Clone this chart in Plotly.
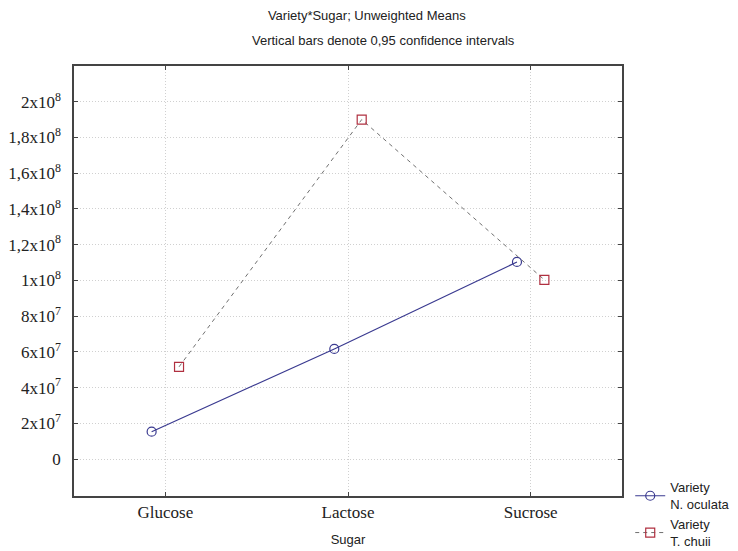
import plotly.graph_objects as go

sugars = ["Glucose", "Lactose", "Sucrose"]
n_oculata = [1.53e7, 6.16e7, 1.103e8]
t_chuii = [5.16e7, 1.90e8, 1.003e8]
ytick_vals = [0, 2e7, 4e7, 6e7, 8e7, 1e8, 1.2e8, 1.4e8, 1.6e8, 1.8e8, 2e8]
ytick_text = ["0", "2x10<sup>7</sup>", "4x10<sup>7</sup>", "6x10<sup>7</sup>", "8x10<sup>7</sup>",
              "1x10<sup>8</sup>", "1,2x10<sup>8</sup>", "1,4x10<sup>8</sup>", "1,6x10<sup>8</sup>",
              "1,8x10<sup>8</sup>", "2x10<sup>8</sup>"]

OFF = 0.075
pos = list(range(len(sugars)))
SANS = "Arial, Liberation Sans"
SERIF = "Times New Roman, Liberation Serif"

fig = go.Figure()
fig.add_trace(go.Scatter(
    x=[p - OFF for p in pos], y=n_oculata, mode="lines+markers",
    name="Variety<br>N. oculata",
    line=dict(color="#3a3a90", width=1.2),
    marker=dict(symbol="circle-open", size=9, color="#3a3a90", line=dict(width=1.2)),
))
fig.add_trace(go.Scatter(
    x=[p + OFF for p in pos], y=t_chuii, mode="lines+markers",
    name="Variety<br>T. chuii",
    line=dict(color="#707070", width=1, dash="4px,4px"),
    marker=dict(symbol="square-open", size=9, color="#b03040", line=dict(width=1.2)),
))

fig.update_layout(
    width=738, height=551,
    margin=dict(l=74, r=116, t=66, b=55, autoexpand=False),
    paper_bgcolor="white", plot_bgcolor="white",
    title=dict(text="Variety*Sugar; Unweighted Means",
               x=0.497, xref="container", xanchor="center", y=1 - 15 / 551, yref="container", yanchor="middle",
               font=dict(family=SANS, size=13, color="#222")),
    annotations=[dict(text="Vertical bars denote 0,95 confidence intervals",
                      xref="paper", yref="paper", x=(383 - 74) / 548, y=(496 - 41) / 430,
                      xanchor="center", yanchor="middle", showarrow=False,
                      font=dict(family=SANS, size=13, color="#222"))],
    showlegend=True,
    legend=dict(x=1.015, xanchor="left", y=0.055, yanchor="top",
                font=dict(family=SANS, size=13, color="#222"),
                tracegroupgap=0, itemwidth=30, bgcolor="rgba(0,0,0,0)"),
)
fig.update_xaxes(
    range=[-0.5, 2.5], tickvals=pos, ticktext=sugars,
    tickfont=dict(family=SERIF, size=17, color="#222"),
    showline=True, linecolor="#444", linewidth=1.5, mirror="ticks",
    ticks="inside", ticklen=4, tickcolor="#444",
    showgrid=True, gridcolor="#d0d0d0", griddash="1px,2px", gridwidth=1,
    zeroline=False, automargin=False,
    title=dict(text="Sugar", font=dict(family=SANS, size=13, color="#222"), standoff=14),
)
fig.update_yaxes(
    range=[-2.07e7, 2.2e8], tickvals=ytick_vals, ticktext=ytick_text,
    tickfont=dict(family=SERIF, size=17, color="#222"),
    showline=True, linecolor="#444", linewidth=1.5, mirror="ticks",
    ticks="inside", ticklen=4, tickcolor="#444", ticklabelstandoff=8,
    showgrid=True, gridcolor="#d0d0d0", griddash="1px,2px", gridwidth=1,
    zeroline=False, automargin=False,
)
fig.write_html("out.html", config={"displayModeBar": False},
               post_script=["document.body.style.margin='0';"])
